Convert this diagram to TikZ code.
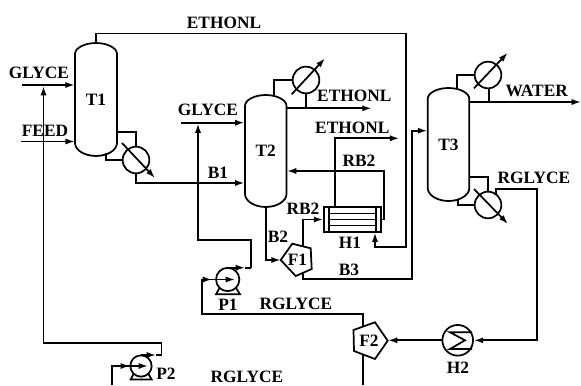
\documentclass[tikz,border=0pt]{standalone}
\usepackage{fontspec}
\setmainfont{Liberation Serif}
\usetikzlibrary{arrows.meta, positioning}

\begin{document}
\begin{tikzpicture}[x=0.75pt, y=-0.75pt,
    pipe/.style={line width=1.3pt},
    flow/.style={pipe, -{Latex[length=7pt,width=4.6pt]}},
    label/.style={font=\bfseries\fontsize{13}{15}\selectfont, inner sep=0pt},
    column/.style={label, minimum width=31.5pt},
    exchanger/.style={draw, pipe, circle, minimum size=20pt, inner sep=0pt},
    pumpbody/.style={draw, pipe, circle, inner sep=0pt}]
    \useasboundingbox (0,0) rectangle (581,385);
    \clip (0,0) rectangle (581,385);

    % Columns
    \node[column, minimum height=84.75pt] (T1) at (96,99.5) {T1};
    \draw[pipe] (75,54) .. controls (75,48) and (84.5,43) .. (96,43) .. controls (107.5,43) and (117,48) .. (117,54)
        -- (117,143) .. controls (117,150) and (107.5,156) .. (96,156) .. controls (84.5,156) and (75,150) .. (75,143) -- cycle;
    \node[column, minimum height=84.75pt] (T2) at (265.7,151) {T2};
    \draw[pipe] (245,106) .. controls (245,100) and (254.5,95) .. (265.7,95) .. controls (277,95) and (286.5,100) .. (286.5,106)
        -- (286.5,194) .. controls (286.5,201) and (277,207) .. (265.7,207) .. controls (254.5,207) and (245,201) .. (245,194) -- cycle;
    \node[column, minimum height=84.75pt] (T3) at (448.5,144.5) {T3};
    \draw[pipe] (427.7,99) .. controls (427.7,93) and (437,88) .. (448.5,88) .. controls (460,88) and (469.3,93) .. (469.3,99)
        -- (469.3,188) .. controls (469.3,195) and (460,201) .. (448.5,201) .. controls (437,201) and (427.7,195) .. (427.7,188) -- cycle;

    % Exchangers on the columns
    \node[exchanger] (E1) at (136,160) {};
    \node[exchanger] (E2) at (306,80) {};
    \node[exchanger] (E3) at (488,75) {};
    \node[exchanger] (E4) at (488,205) {};
    \draw[flow] (122,143) coordinate (e1a) -- (155,178) coordinate (e1b);
    \draw[flow] (291.7,94.3) coordinate (e2a) -- (325,58.3) coordinate (e2b);
    \draw[flow] (474,88.3) coordinate (e3a) -- (507.7,52.7) coordinate (e3b);
    \draw[flow] (474,189) coordinate (e4a) -- (508,224) coordinate (e4b);

    % Heat exchanger H1
    \node[draw, pipe, minimum width=42.5pt, minimum height=18.3pt, inner sep=0pt] (H1) at (352.3,219.5) {};
    \draw[pipe] (329,207.3) -- (329,231.7);
    \draw[pipe] (376,207.3) -- (376,231.7);
    \draw[pipe] (329,213.4) -- (376,213.4);
    \draw[pipe] (329,219.5) -- (376,219.5);
    \draw[pipe] (329,225.6) -- (376,225.6);
    \node[label] (H1text) at (350,243) {H1};

    % Heater H2
    \node[draw, pipe, circle, minimum size=23pt, inner sep=0pt] (H2) at (457.7,340.3) {};
    \draw[pipe] (472,332.3) -- (450,332.3) -- (465,340.3) -- (450,349) -- (472,349);
    \node[label] (H2text) at (458,368) {H2};

    % Flash drums
    \node[label] (F1) at (297.5,260) {F1};
    \draw[pipe] (280.7,260) -- (292.3,243.7) -- (310.7,248.3) -- (311.7,269) -- (295.7,276) -- cycle;
    \node[label] (F2) at (369,341) {F2};
    \draw[pipe] (353.5,330) -- (375,322.3) -- (387.7,340.7) -- (375,359) -- (354,351) -- cycle;
    \coordinate (F1tip) at (280.7,260);
    \coordinate (F1top) at (303.3,246);
    \coordinate (F1bot) at (303.3,272);
    \coordinate (F2tip) at (388,340.3);
    \coordinate (F2top) at (362.7,326.5);
    \coordinate (F2bot) at (362.7,355);

    % Pumps
    \node[pumpbody, minimum size=17.5pt] (P1) at (227.7,279.5) {};
    \draw[pipe] (219.5,288) -- (216,294.3) -- (240,294.3) -- (236,288);
    \node[label] (P1text) at (228,305) {P1};
    \node[pumpbody, minimum size=16pt] (P2) at (141,366) {};
    \draw[pipe] (133.5,374) -- (130.7,379.5) -- (151.7,379.5) -- (148.5,374);
    \node[label] (P2text) at (166,374) {P2};

    % Corner points of the lines
    \coordinate (topturn) at (405.7,33.5);
    \coordinate (h1return) at (375,247);
    \coordinate (glyceA) at (22,85);
    \coordinate (feedA) at (21,141.5);
    \coordinate (glyceB) at (181,122.7);
    \coordinate (r2turn) at (43.5,343);
    \coordinate (p2out) at (161.5,355);
    \coordinate (p2start) at (141,355);
    \coordinate (p2tip) at (156,355);
    \coordinate (p2in) at (112,385);
    \coordinate (p2midA) at (130,366);
    \coordinate (p2midB) at (148,366);
    \coordinate (p1turn) at (198,239.7);
    \coordinate (p1out) at (250.7,267.7);
    \coordinate (p1start) at (228,267.7);
    \coordinate (p1tip) at (245,267.7);
    \coordinate (p1in) at (201.7,314.3);
    \coordinate (p1midA) at (212,279.5);
    \coordinate (p1midB) at (235,279.5);
    \coordinate (e1in) at (135.5,131.7);
    \coordinate (e1out) at (105.7,166.7);
    \coordinate (b1turn) at (136,183);
    \coordinate (e2turn) at (274.3,77.7);
    \coordinate (eth2end) at (371.7,108.3);
    \coordinate (eth3end) at (399.3,138.3);
    \coordinate (rb2turn) at (384.3,171);
    \coordinate (b3turn) at (412.3,279.3);
    \coordinate (e3turn) at (457.3,71.7);
    \coordinate (waterend) at (581,102);
    \coordinate (e4in) at (487.5,176.7);
    \coordinate (e4out) at (457.7,212);
    \coordinate (rturn) at (537.3,189);
    \coordinate (rtop) at (495.7,189);
    \coordinate (f2low) at (362.7,385);

    % Lines around T1
    \draw[flow] (T1.north) |- (topturn) |- (h1return) -- (h1return |- H1.south);
    \draw[flow] (glyceA) -- (glyceA -| T1.west);
    \draw[flow] (feedA) -- (feedA -| T1.west);
    \draw[pipe] (T1.east |- e1in) -| (E1.north);
    \draw[pipe] (105.7,153) |- (E1.west);
    \draw[flow] (E1.south) |- (b1turn -| T2.west);

    % Lines around T2
    \draw[flow] (glyceB) -- (glyceB -| T2.west);
    \draw[pipe] (e2turn |- 0,95) |- (E2.west);
    \draw[pipe] (E2.south) -- (E2.south |- eth2end);
    \draw[flow] (T2.east |- eth2end) -- (eth2end);
    \draw[flow] (T2.south) |- (F1tip);
    \draw[flow] (F1top) |- (H1.west);
    \draw[flow] (H1.north -| 335,0) |- (eth3end);
    \draw[flow] (H1.east) -| (rb2turn) -- (rb2turn -| T2.east);

    % Lines around T3
    \draw[flow] (F1bot) |- (b3turn) |- (T3.west |- 0,130.7);
    \draw[pipe] (e3turn |- 0,89) |- (E3.west);
    \draw[pipe] (E3.south -| 489,0) -- (489,102);
    \draw[flow] (T3.east |- waterend) -- (waterend);
    \draw[pipe] (T3.east |- e4in) -| (E4.north);
    \draw[pipe] (457.7,200) |- (E4.west);

    % Recycle lines
    \draw[flow] (495.7,195) -- (rtop) -- (rturn) |- (H2.east);
    \draw[flow] (H2.west) -- (F2tip);
    \draw[flow] (F2top) |- (p1in) |- (p1midB);
    \draw[flow] (p1in) |- (p1midA);
    \draw[flow] (p1out) |- (p1turn) -| (198,123.5);
    \draw[flow] (p1start) -- (p1tip);
    \draw[pipe] (F2bot) -- (f2low);
    \draw[flow] (p2in) |- (p2midB);
    \draw[flow] (p2in) |- (p2midA);
    \draw[flow] (p2out) |- (r2turn) -| (43.5,86);
    \draw[flow] (p2start) -- (p2tip);
    \draw[pipe] (p1tip) -- (p1out);
    \draw[pipe] (p2tip) -- (p2out);

    % Labels
    \node[label] (ethonlA) at (224,23) {ETHONL};
    \node[label] (glyceAtext) at (39,73) {GLYCE};
    \node[label] (feedtext) at (45,131) {FEED};
    \node[label] (glyceBtext) at (208,110) {GLYCE};
    \node[label] (b1text) at (218,173) {B1};
    \node[label] (ethonlB) at (354.3,96) {ETHONL};
    \node[label] (ethonlC) at (352.3,127.7) {ETHONL};
    \node[label] (rb2A) at (359,160.7) {RB2};
    \node[label] (rb2B) at (303,209) {RB2};
    \node[label] (b2text) at (278,236.7) {B2};
    \node[label] (b3text) at (349,270) {B3};
    \node[label] (watertext) at (536.7,90.7) {WATER};
    \node[label] (rglyceA) at (534,177.5) {RGLYCE};
    \node[label] (rglyceB) at (296,304) {RGLYCE};
    \node[label] (rglyceC) at (247,376.5) {RGLYCE};
\end{tikzpicture}
\end{document}
